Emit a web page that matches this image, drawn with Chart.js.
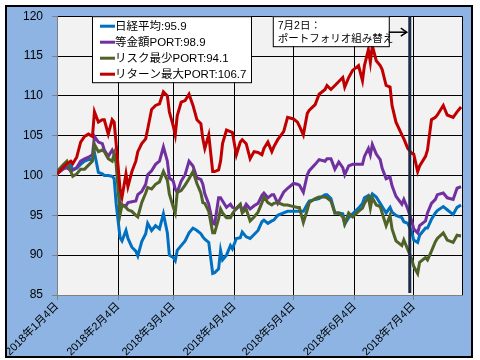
<!DOCTYPE html>
<html>
<head>
<meta charset="utf-8">
<script src="https://cdn.jsdelivr.net/npm/chart.js@4.4.0/dist/chart.umd.min.js"></script>
<style>
  html, body { margin: 0; padding: 0; background: #fff; }
</style>
</head>
<body>
<canvas id="grafico" width="480" height="360"></canvas>
<script>
// giorni dal 4 gennaio 2018
const days = [0,3,5,7,8,10,12,14,16,18,19,21,23,24,26,28,29,30,32,33,35,36,38,40,41,43,45,46,48,50,
  52,54,56,57,59,60,61,63,65,67,69,71,73,74,75,77,79,80,82,83,84,86,88,89,91,93,94,96,98,100,
  102,104,105,107,109,110,112,115,117,120,122,123,125,127,128,131,133,136,137,139,141,143,145,146,148,150,153,155,156,158,
  159,160,162,164,165,167,169,170,172,175,176,178,180,181,183,184,187,188,190,192,193,196,198,201,203,205];

const nikkei = [100.2,100.8,101.2,101.4,100.7,100.9,101.4,101.8,102,102,
  102.9,100.4,100.2,100,100,99.9,99.6,96.5,92.2,91.8,
  93.1,92.1,91,90.5,89.9,91.7,92.7,94,93.1,93.7,
  93.3,95.2,92.8,90,89.7,89.3,90.6,91.2,91.8,92.8,
  93.4,93.1,92.7,92.3,92,91.6,87.7,87.8,88.3,90.6,
  89.4,90,91.2,90.8,92.1,92.2,92.9,92.3,92.1,92.6,
  93.1,94.2,94.4,94,94.3,94.4,95,95.3,95.5,95.5,
  95.5,95.5,95.5,96.4,96.8,97,97.1,97.6,97.6,97.1,
  95.3,95.3,95.2,93.9,94.7,95.2,95.9,96.5,97.2,97.5,
  97.1,97.7,97.3,96.5,96.1,95.3,96,95.4,95,94.7,
  94.2,94,92.9,91.9,91.6,92.5,93.4,93.4,94.5,95.3,
  95.6,96.1,95.7,95.1,96,96.3];

const equalWeight = [100.2,100.8,101,100.6,100.7,101,101.8,102.1,102.3,102.6,
  104.9,104.2,104,103.2,102.4,103.2,102.7,102.1,96.6,96.3,
  96.2,96.6,96.7,96.8,97.6,98,98.9,100.1,100.6,101.4,
  101.8,103.6,101.8,99.7,99.3,98.3,97.9,99.3,100.1,101.8,
  101.2,99.7,99.5,98.9,97.7,96.4,94,93.9,97.2,97.2,
  96.8,96,96.4,96,95.8,96.3,95.5,96.4,95.8,96.2,
  96.5,97.5,97.8,97.2,97.6,97.6,96.5,97.9,98.4,99,
  98.9,98.8,97.9,100.1,100.6,101.4,102,101.8,102.1,102.1,
  100.8,101.7,101,100.1,101.2,101.4,101.4,101.4,102.4,103.4,
  102.6,103.9,102.7,102,100.9,99.6,99.8,98.7,97.4,96.4,
  97,95.8,94.3,93.3,92.8,93.7,94.3,95.3,96.5,97,
  97.6,97.8,97.2,97,98.4,98.6];

const minRisk = [100.5,101.3,101.8,100.5,99.9,100.2,100.8,100.8,101.3,101.8,
  103.9,103,103.2,103,102.1,101.8,102.7,101.5,95.1,96.3,
  96,95.7,95.5,95,94.8,96.6,97.8,98.5,98.3,98.9,
  99.2,100.5,99.4,97.7,96,95.3,97.9,98.1,98.8,99.6,
  100.5,99,97.8,96.6,96.5,95.5,92.8,92.8,94.6,95.8,
  95.3,94.7,94.7,95.2,95.9,96.4,95.3,95.8,94.3,94.8,
  95.4,96.6,97.3,96.6,96.3,96.5,96.6,96.3,96.3,96.1,
  96,96,94.1,95.7,96.6,97.1,97.3,97.3,97.2,96.8,
  95.3,95.3,94.8,93.9,95.3,94.8,95.5,95.9,96.5,97.3,
  95.9,97.2,96.3,96.1,95.3,93.7,95,93.3,91.8,91.2,
  91.9,90.7,89.5,88.6,87.7,89.1,89.7,89.4,90.5,91.7,
  92.1,92.8,91.9,91.6,92.5,92.4];

const maxReturn = [100.2,101,101.5,101.8,101.5,102.3,104.2,104.9,105.2,104.9,
  108,106.7,107,107,105.2,107,106.7,104,98.3,97.3,
  100.2,98.6,100.5,101.8,103,104,104.6,105.8,108.3,108.8,
  109,110.5,110,108,106.2,105.1,107.5,109.2,109.4,110.2,
  108.8,107,106.5,104.6,103.4,105.1,100.5,100.5,100.7,101.8,
  104,105.7,105.5,105.4,102.6,104.2,104.5,104,102.1,103,
  102.9,102.6,103.4,104.2,103,103.6,104.5,105.5,107.3,107.1,
  106.7,106.2,105.1,107.8,108.2,108.9,110.2,110.8,111.3,110.8,
  111.3,111.8,112.3,111.1,112.3,113.2,113.8,111.9,113.8,115.8,
  114.2,116.3,114.4,113.8,113.3,111.3,111.1,108.8,106.7,105.1,
  104.6,103.4,102.8,102.7,100.5,101.2,102.4,103.2,107,107.3,
  107.6,108.8,107.6,107.3,108,108.6];

const seriesNames = ['日経平均:95.9', '等金額PORT:98.9', 'リスク最少PORT:94.1', 'リターン最大PORT:106.7'];
const seriesColors = ['#0070C0', '#7030A0', '#4F6228', '#C00000'];

const monthTicks = [0, 31, 59, 90, 120, 151, 181];
const monthLabels = ['2018年1月4日', '2018年2月4日', '2018年3月4日', '2018年4月4日',
  '2018年5月4日', '2018年6月4日', '2018年7月4日'];

const switchDay = 179; // 7月2日
const noteLines = ['7月2日：', 'ポートフォリオ組み替え'];

const FONT = '"Liberation Sans", "Noto Sans CJK JP", sans-serif';

function punti(valori) {
    return days.map((d, i) => ({ x: d, y: valori[i] }));
}

const decorazioni = {
    id: 'decorazioni',
    beforeDraw: function (chart) {
        const ctx = chart.ctx, a = chart.chartArea;
        ctx.save();
        ctx.fillStyle = '#fff';
        ctx.fillRect(0, 0, chart.width, chart.height);
        ctx.fillStyle = '#8DB4E2';
        ctx.fillRect(6, 6, 466, 351);
        ctx.strokeStyle = '#000';
        ctx.lineWidth = 2;
        ctx.strokeRect(6, 6, 466, 351);
        ctx.fillStyle = '#F2F2F2';
        ctx.fillRect(a.left, a.top, a.right - a.left, a.bottom - a.top);
        ctx.restore();
    },
    afterDatasetsDraw: function (chart) {
        const ctx = chart.ctx, a = chart.chartArea;
        ctx.save();
        // bordo destro
        ctx.strokeStyle = '#000';
        ctx.lineWidth = 1;
        ctx.beginPath();
        ctx.moveTo(a.right + 0.5, a.top);
        ctx.lineTo(a.right + 0.5, a.bottom);
        ctx.stroke();

        // linea del 2 luglio
        const lx = chart.scales.x.getPixelForValue(switchDay);
        ctx.strokeStyle = '#1B2A47';
        ctx.lineWidth = 3;
        ctx.beginPath();
        ctx.moveTo(lx, a.top);
        ctx.lineTo(lx, a.bottom - 2);
        ctx.stroke();

        // legenda
        const lgX = a.left + 35, lgY = a.top, lgW = 159, lgH = 66;
        ctx.fillStyle = '#fff';
        ctx.fillRect(lgX, lgY, lgW, lgH);
        ctx.strokeStyle = '#000';
        ctx.lineWidth = 1;
        ctx.strokeRect(lgX + 0.5, lgY + 0.5, lgW, lgH);
        ctx.font = '11.5px ' + FONT;
        ctx.textBaseline = 'middle';
        ctx.textAlign = 'left';
        seriesNames.forEach(function (nome, i) {
            const y = lgY + 10 + i * 16;
            ctx.strokeStyle = seriesColors[i];
            ctx.lineWidth = 3;
            ctx.beginPath();
            ctx.moveTo(lgX + 8, y);
            ctx.lineTo(lgX + 23, y);
            ctx.stroke();
            ctx.fillStyle = '#000';
            ctx.fillText(nome, lgX + 23, y + 1);
        });

        // nota con freccia
        const bx = lx - 137, by = a.top, bw = 116, bh = 30;
        ctx.fillStyle = '#fff';
        ctx.fillRect(bx, by, bw, bh);
        ctx.strokeStyle = '#000';
        ctx.lineWidth = 1;
        ctx.strokeRect(bx + 0.5, by + 0.5, bw, bh);
        ctx.fillStyle = '#000';
        ctx.font = '10.5px ' + FONT;
        ctx.fillText(noteLines[0], bx + 5, by + 10);
        ctx.fillText(noteLines[1], bx + 5, by + 23);
        const ay = by + 16;
        ctx.lineWidth = 1.5;
        ctx.beginPath();
        ctx.moveTo(bx + bw, ay);
        ctx.lineTo(lx - 3, ay);
        ctx.stroke();
        ctx.beginPath();
        ctx.moveTo(lx - 9, ay - 4);
        ctx.lineTo(lx - 3, ay);
        ctx.lineTo(lx - 9, ay + 4);
        ctx.stroke();
        ctx.restore();
    }
};

const serie = [nikkei, equalWeight, minRisk, maxReturn];

new Chart(document.getElementById('grafico').getContext('2d'), {
    type: 'line',
    data: {
        datasets: serie.map(function (valori, i) {
            return {
                label: seriesNames[i],
                data: punti(valori),
                borderColor: seriesColors[i],
                borderWidth: 3,
                pointRadius: 0,
                tension: 0,
                fill: false,
                order: 3 - i
            };
        })
    },
    options: {
        responsive: false,
        animation: false,
        devicePixelRatio: 1,
        layout: { padding: { left: 0, right: 18, top: 13, bottom: 0 } },
        plugins: {
            legend: { display: false },
            tooltip: { enabled: false }
        },
        scales: {
            x: {
                type: 'linear',
                min: 0,
                max: 205.5,
                afterBuildTicks: function (scale) {
                    scale.ticks = monthTicks.map(v => ({ value: v }));
                },
                afterFit: function (scale) { scale.height = 65; },
                grid: {
                    color: ctx => (ctx.tick && ctx.tick.value === 0) ? '#808080' : '#000',
                    tickColor: '#808080',
                    tickLength: 5
                },
                border: { color: '#808080' },
                ticks: {
                    autoSkip: false,
                    maxRotation: 45,
                    minRotation: 45,
                    padding: 0,
                    color: '#000',
                    font: { family: FONT, size: 11 },
                    callback: v => monthLabels[monthTicks.indexOf(v)]
                }
            },
            y: {
                min: 85,
                max: 120,
                afterFit: function (scale) { scale.width = 57; },
                grid: {
                    color: ctx => (ctx.tick && ctx.tick.value === 85) ? '#808080' : '#000',
                    tickColor: '#808080',
                    tickLength: 5
                },
                border: { color: '#808080' },
                ticks: {
                    stepSize: 5,
                    padding: 9,
                    color: '#000',
                    font: { family: FONT, size: 12 }
                }
            }
        }
    },
    plugins: [decorazioni]
});
</script>
</body>
</html>
